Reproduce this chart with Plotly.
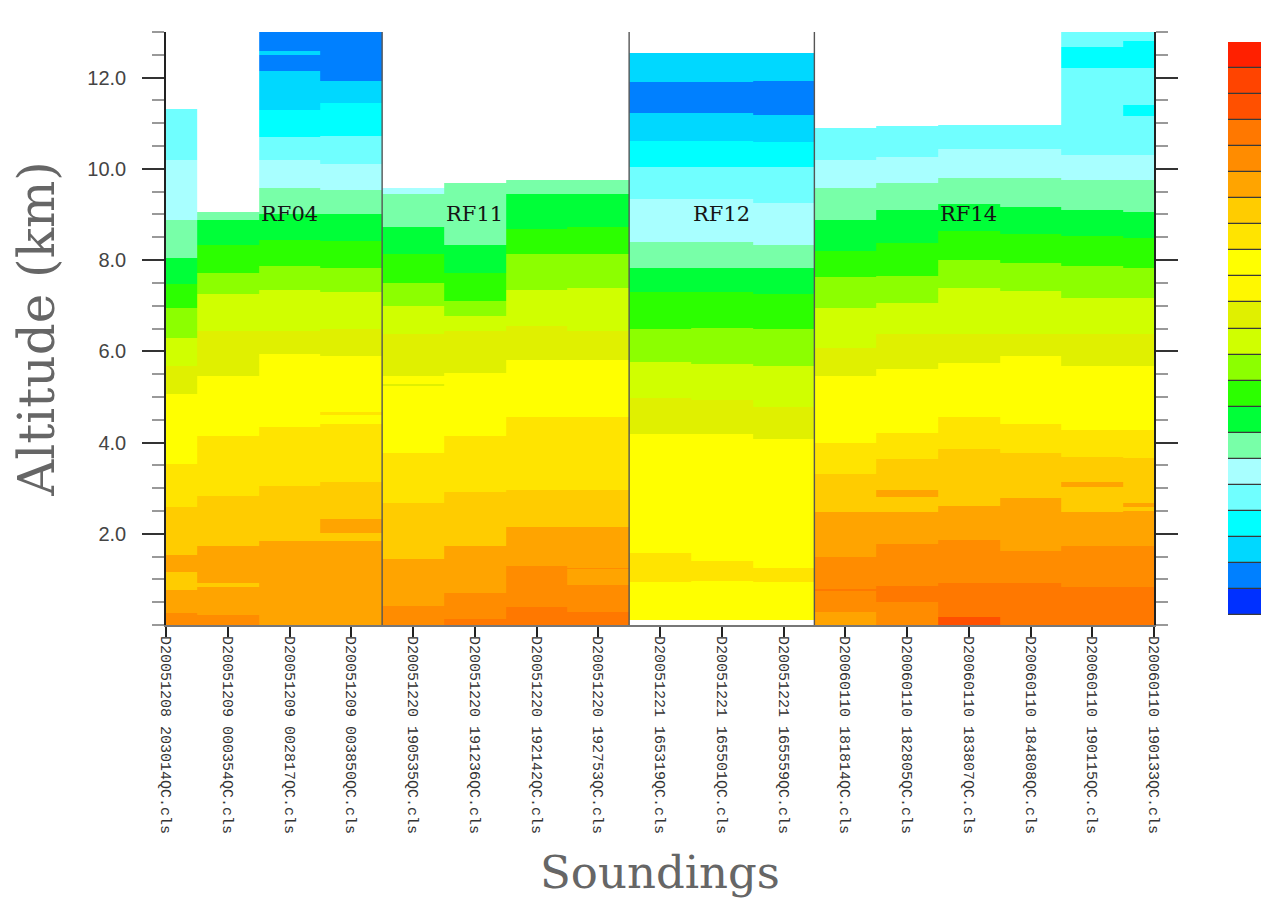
import plotly.graph_objects as go

# ---------------- data ----------------
soundings = [
    "D20051208\u00a0203014QC.cls", "D20051209\u00a0000354QC.cls",
    "D20051209\u00a0002817QC.cls", "D20051209\u00a0003850QC.cls",
    "D20051220\u00a0190535QC.cls", "D20051220\u00a0191236QC.cls",
    "D20051220\u00a0192142QC.cls", "D20051220\u00a0192753QC.cls",
    "D20051221\u00a0165319QC.cls", "D20051221\u00a0165501QC.cls",
    "D20051221\u00a0165559QC.cls",
    "D20060110\u00a0181814QC.cls", "D20060110\u00a0182805QC.cls",
    "D20060110\u00a0183807QC.cls", "D20060110\u00a0184808QC.cls",
    "D20060110\u00a0190115QC.cls", "D20060110\u00a0190133QC.cls",
]

flight_names = ["RF04", "RF11", "RF12", "RF14"]
flight_sizes = [4, 4, 3, 6]
flight_label_x = [2, 5, 9, 13]
flight_label_alt = [9.0, 9.0, 9.0, 9.0]

# colour classes (index 0 = lowest, 21 = highest)
class_colors = [
    "#0030ff", "#0080ff", "#00d8ff", "#00ffff", "#70ffff", "#a8ffff",
    "#78ffa8", "#00ff38", "#2cff00", "#8cff00", "#d0ff00", "#e0f000",
    "#fff800", "#ffff00", "#ffe400", "#ffcc00", "#ffa400", "#ff8c00",
    "#ff7800", "#ff5000", "#ff4400", "#ff2000",
]

# per sounding: upper edge (km) of each layer, from the ground up, and its class
layer_tops = [
    [0.26, 0.77, 1.16, 1.53, 2.58, 3.54, 5.07, 5.68, 6.30, 6.95, 7.48, 8.04, 8.87, 10.19, 11.32],
    [0.22, 0.83, 0.91, 1.73, 2.82, 4.15, 5.46, 6.45, 7.25, 7.72, 8.34, 8.87, 9.05],
    [1.84, 3.04, 4.33, 5.94, 6.45, 7.34, 7.87, 8.43, 9.00, 9.57, 10.19, 10.69, 11.28, 12.15, 12.50, 12.59, 13.0],
    [1.84, 2.01, 2.32, 3.13, 4.41, 4.61, 4.68, 5.90, 6.49, 7.30, 7.83, 8.42, 9.00, 9.53, 10.10, 10.71, 11.45, 11.93, 13.0],
    [0.42, 1.44, 2.67, 3.78, 5.25, 5.29, 5.46, 6.38, 7.00, 7.50, 8.13, 8.72, 9.44, 9.57],
    [0.13, 0.70, 1.73, 2.91, 4.15, 5.53, 6.45, 6.78, 7.10, 7.72, 8.34, 9.70],
    [0.39, 1.29, 2.14, 2.97, 4.55, 5.81, 6.56, 7.34, 8.13, 8.68, 9.44, 9.75],
    [0.28, 0.87, 1.22, 1.25, 2.14, 2.97, 4.55, 5.81, 6.45, 7.39, 8.13, 8.72, 9.44, 9.75],
    [0.11, 0.94, 1.57, 4.19, 4.98, 5.77, 6.49, 7.30, 7.83, 8.40, 9.35, 10.05, 10.60, 11.22, 11.91, 12.55],
    [0.11, 0.97, 1.40, 4.19, 4.94, 5.72, 6.51, 7.30, 7.83, 8.40, 9.35, 10.05, 10.60, 11.22, 11.91, 12.55],
    [0.11, 0.94, 1.26, 4.07, 4.77, 5.68, 6.50, 7.25, 7.83, 8.34, 9.25, 10.05, 10.58, 11.19, 11.93, 12.55],
    [0.28, 0.74, 0.78, 1.50, 2.47, 3.32, 4.00, 5.46, 6.08, 6.95, 7.63, 8.21, 8.87, 9.57, 10.19, 10.89],
    [0.50, 0.86, 1.77, 2.47, 2.80, 2.97, 3.63, 4.22, 5.62, 6.38, 7.06, 7.65, 8.37, 9.09, 9.68, 10.27, 10.93],
    [0.17, 0.92, 1.86, 2.60, 3.85, 4.55, 5.75, 6.38, 7.39, 8.00, 8.63, 9.22, 9.81, 10.43, 10.97],
    [0.92, 1.62, 2.78, 3.78, 4.41, 5.90, 6.38, 7.32, 7.94, 8.57, 9.16, 9.79, 10.43, 10.97],
    [0.83, 1.73, 2.47, 3.02, 3.13, 3.69, 4.28, 5.68, 6.38, 7.17, 7.87, 8.52, 9.09, 9.75, 10.31, 12.20, 12.68, 13.0],
    [0.83, 1.73, 2.51, 2.58, 2.67, 3.67, 4.28, 5.68, 6.38, 7.17, 7.83, 8.48, 9.05, 9.75, 10.31, 11.15, 11.41, 12.20, 12.81, 13.0],
]
layer_class = [
    [17, 16, 15, 16, 15, 14, 13, 11, 10, 9, 8, 7, 6, 5, 4],
    [17, 16, 15, 16, 15, 14, 13, 11, 10, 9, 8, 7, 6],
    [16, 15, 14, 13, 11, 10, 9, 8, 7, 6, 5, 4, 3, 2, 1, 2, 1],
    [16, 15, 16, 15, 14, 13, 14, 13, 11, 10, 9, 8, 7, 6, 5, 4, 3, 2, 1],
    [17, 16, 15, 14, 13, 11, 13, 11, 10, 9, 8, 7, 6, 5],
    [18, 17, 16, 15, 14, 13, 11, 10, 9, 8, 7, 6],
    [18, 17, 16, 15, 14, 13, 11, 10, 9, 8, 7, 6],
    [18, 17, 16, 17, 16, 15, 14, 13, 11, 10, 9, 8, 7, 6],
    [None, 13, 14, 13, 11, 10, 9, 8, 7, 6, 5, 4, 3, 2, 1, 2],
    [None, 13, 14, 13, 11, 10, 9, 8, 7, 6, 5, 4, 3, 2, 1, 2],
    [None, 13, 14, 13, 11, 10, 9, 8, 7, 6, 5, 4, 3, 2, 1, 2],
    [16, 17, 18, 17, 16, 15, 14, 13, 11, 10, 9, 8, 7, 6, 5, 4],
    [17, 18, 17, 16, 15, 16, 15, 14, 13, 11, 10, 9, 8, 7, 6, 5, 4],
    [19, 18, 17, 16, 15, 14, 13, 11, 10, 9, 8, 7, 6, 5, 4],
    [18, 17, 16, 15, 14, 13, 11, 10, 9, 8, 7, 6, 5, 4],
    [18, 17, 16, 15, 16, 15, 14, 13, 11, 10, 9, 8, 7, 6, 5, 4, 3, 4],
    [18, 17, 16, 15, 16, 15, 14, 13, 11, 10, 9, 8, 7, 6, 5, 4, 3, 4, 3, 4],
]

y_tick_vals = [2, 4, 6, 8, 10, 12]
y_tick_text = ["2.0", "4.0", "6.0", "8.0", "10.0", "12.0"]

# ---------------- build grid ----------------
n_cls = len(class_colors)
edges = sorted(set([0.0] + [t for tops in layer_tops for t in tops]))
mids = [(a + b) / 2 for a, b in zip(edges[:-1], edges[1:])]
z = []
for m in mids:
    row = []
    for tops, cls in zip(layer_tops, layer_class):
        v = None
        for t, c in zip(tops, cls):
            if m < t:
                v = c
                break
        row.append(v)
    z.append(row)

colorscale = []
for i, c in enumerate(class_colors):
    colorscale.append([i / n_cls, c])
    colorscale.append([(i + 1) / n_cls, c])

xs = list(range(len(soundings)))

fig = go.Figure()
fig.add_trace(go.Heatmap(
    x=xs, y=edges, z=z, colorscale=colorscale,
    zmin=-0.5, zmax=n_cls - 0.5, showscale=False, hoverongaps=False,
    xaxis="x", yaxis="y",
))

# colour key as stacked blocks
fig.add_trace(go.Bar(
    x=[0] * n_cls, y=[1] * n_cls, base=list(range(n_cls)),
    marker=dict(color=class_colors, line=dict(color="#3a3a3a", width=1.3)),
    width=1.0, xaxis="x2", yaxis="y2", showlegend=False, hoverinfo="skip",
))

# flight separators
shapes = []
acc = 0
for s in flight_sizes[:-1]:
    acc += s
    shapes.append(dict(type="line", xref="x", yref="paper", x0=acc - 0.5, x1=acc - 0.5,
                       y0=0, y1=1, line=dict(color="#555555", width=1.4)))

annotations = []
for name, fx, fy in zip(flight_names, flight_label_x, flight_label_alt):
    annotations.append(dict(x=fx, y=fy, xref="x", yref="y", text=name, showarrow=False,
                            font=dict(family="DejaVu Serif", size=21, color="#151515")))
annotations.append(dict(x=0.5, y=-0.418, xref="x domain", yref="paper", text="Soundings",
                        showarrow=False, yanchor="middle",
                        font=dict(family="DejaVu Serif", size=45, color="#666666")))

W, H = 1261, 893
L, T, B = 158, 24, 276
main_right = 988 / (W - L)
cb_left = (1220 - L) / (W - L)
plot_h = H - T - B

fig.update_layout(
    width=W, height=H,
    margin=dict(l=L, r=0, t=T, b=B, autoexpand=False),
    paper_bgcolor="white", plot_bgcolor="white",
    showlegend=False, bargap=0,
    shapes=shapes, annotations=annotations,
    xaxis=dict(
        domain=[0, main_right], range=[0, len(soundings) - 1],
        tickmode="array", tickvals=xs, ticktext=soundings, tickangle=90,
        ticks="outside", ticklen=10, tickwidth=1.5, tickcolor="#222",
        tickfont=dict(family="Liberation Mono", size=15, color="#333"),
        ticklabelstandoff=-4,
        showline=True, linecolor="#777", linewidth=2, showgrid=False, zeroline=False,
        anchor="y",
    ),
    xaxis3=dict(
        overlaying="x", side="top", anchor="y", range=[0, len(soundings) - 1],
        tickmode="array", tickvals=xs, ticks="outside", ticklen=22, tickwidth=1.5,
        tickcolor="#333", showticklabels=False, showline=True, linecolor="#222",
        linewidth=1.5, showgrid=False, zeroline=False,
    ),
    yaxis=dict(
        range=[0, 13], tickmode="array", tickvals=y_tick_vals, ticktext=y_tick_text,
        ticks="outside", ticklen=22, tickwidth=1.5, tickcolor="#333",
        ticklabelstandoff=12,
        minor=dict(dtick=0.5, ticks="outside", ticklen=12, tickcolor="#999", tickwidth=1.5),
        tickfont=dict(family="Liberation Sans", size=20, color="#444"),
        showline=True, linecolor="#222", linewidth=1.5, mirror="ticks",
        showgrid=False, zeroline=False,
        title=dict(text="Altitude (km)", standoff=20,
                   font=dict(family="DejaVu Serif", size=50, color="#666666")),
    ),
    xaxis2=dict(domain=[cb_left, 1], range=[-0.5, 0.42], visible=False, anchor="y2"),
    yaxis2=dict(domain=[(617 - 607) / plot_h, (617 - 34) / plot_h], range=[0, n_cls],
                visible=False, anchor="x2"),
)

fig.write_html("out.html")
